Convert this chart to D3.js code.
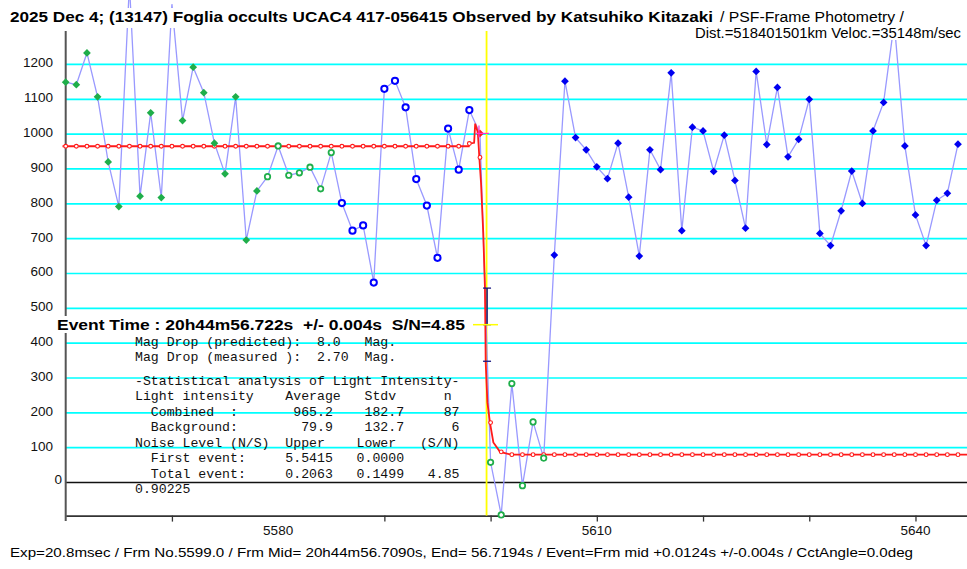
<!DOCTYPE html>
<html lang="en">
<head>
<meta charset="utf-8">
<title>(13147) Foglia occults UCAC4 417-056415</title>
<script src="https://cdnjs.cloudflare.com/ajax/libs/d3/7.8.5/d3.min.js"></script>
<style>
  body { margin: 0; background: #fff; }
  svg { display: block; }
  .grid { stroke: #00ffff; stroke-width: 1.7; }
  .lab { font: 13.5px "Liberation Sans", Arial, sans-serif; fill: #111; }
  .mono { font: 13.2px "Liberation Mono", monospace; fill: #111; white-space: pre; }
</style>
</head>
<body>
<svg width="967" height="569"></svg>
<script>
// frame numbers start here, one value per frame
var startFrame = 5560;
var intensity = [
  1149, 1142, 1233, 1107, 920, 792, 1430, 822, 1061, 818,
  1373, 1039, 1192, 1119, 974, 886, 1107, 696, 837, 878,
  966, 882, 889, 905, 843, 947, 802, 723, 738, 574,
  1130, 1153, 1077, 871, 795, 645, 1016, 898, 1069, 1002,
  58, -93, 284, -9, 174, 70, 653, 1152, 990, 955,
  906, 872, 974, 819, 650, 955, 898, 1176, 723, 1020,
  1009, 893, 997, 867, 730, 1180, 970, 1134, 935, 985,
  1100, 715, 680, 780, 894, 801, 1009, 1091, 1320, 966,
  768, 680, 810, 830, 971
];
// marker style for consecutive runs of frames
var markerRuns = [["greenDiamond", 19], ["greenRing", 7], ["blueRing", 13], ["event", 1], ["greenRing", 6], ["blueDiamond", 39]];

// fitted model (red)
var levelBefore = 965.2, levelAfter = 79.9;
var modelFrames = [5559.7, 5597.95, 5598.0, 5598.45, 5598.55, 5598.8, 5598.94, 5599.1, 5599.31, 5599.47, 5599.54, 5599.7, 5599.94, 5600.26, 5600.89, 5601.93, 5644.9];
var modelValues = [965.2, 965.2, 973, 975, 1030, 1005, 933, 860, 716, 558, 344, 230, 172, 115, 88, 80, 79.9];
var modelCircleFrames = [5598, 5599, 5600, 5601];
var modelCircleValues = [973, 933, 172, 88];

var eventFrame = 5599.62;
var errorBar = [348, 453, 558];

var yTicks = [0, 100, 200, 300, 400, 500, 600, 700, 800, 900, 1000, 1100, 1200];
var xTicks = [5570, 5590, 5600, 5610, 5620, 5630, 5640];
var xLabels = [5580, 5610, 5640];

var statsLines = [
  "Mag Drop (predicted):  8.0   Mag.",
  "Mag Drop (measured ):  2.70  Mag.",
  "-Statistical analysis of Light Intensity-",
  "Light intensity    Average   Stdv      n",
  "  Combined  :       965.2    182.7     87",
  "  Background:        79.9    132.7      6",
  "Noise Level (N/S)  Upper    Lower   (S/N)",
  "  First event:     5.5415   0.0000",
  "  Total event:     0.2063   0.1499   4.85",
  "0.90225"
];

var svg = d3.select("svg");
var right = 967;
var plotTop = 31;

var x = d3.scaleLinear().domain([5560, 5644.85]).range([65.7, right]);
var y = d3.scaleLinear().domain([-95, 1385]).range([515.6, 0]);

// grid lines
svg.append("g").selectAll("line")
  .data(yTicks.filter(function(d) { return d !== 0; }))
  .enter().append("line")
    .attr("class", "grid")
    .attr("x1", x(5560)).attr("x2", right)
    .attr("y1", function(d) { return y(d); })
    .attr("y2", function(d) { return y(d); });

svg.append("line")
  .attr("x1", x(5560)).attr("x2", right)
  .attr("y1", y(0)).attr("y2", y(0))
  .attr("stroke", "#111").attr("stroke-width", 1.3);

// bottom axis
var xAxis = svg.append("g")
  .attr("transform", "translate(0," + y(-95) + ")")
  .call(d3.axisBottom(x).tickValues(xTicks).tickFormat("").tickSizeInner(6).tickSizeOuter(0));
xAxis.select(".domain").attr("stroke", "#333").attr("stroke-width", 1.6);
xAxis.selectAll(".tick line").attr("stroke", "#333").attr("stroke-width", 1.3);

svg.append("g").selectAll("text")
  .data(xLabels)
  .enter().append("text")
    .attr("class", "lab")
    .attr("x", function(d) { return x(d); })
    .attr("y", 534.5)
    .attr("text-anchor", "middle")
    .text(function(d) { return d; });

// left axis
svg.append("line")
  .attr("x1", x(5560)).attr("x2", x(5560))
  .attr("y1", plotTop).attr("y2", 521)
  .attr("stroke", "#555").attr("stroke-width", 2);

svg.append("g").selectAll("text")
  .data(yTicks)
  .enter().append("text")
    .attr("class", "lab")
    .attr("x", function(d) { return d === 0 ? 62 : 53; })
    .attr("y", function(d) { return y(d) + (d === 0 ? 1.5 : 3); })
    .attr("text-anchor", "end")
    .text(function(d) { return d; });

// event time line
svg.append("line")
  .attr("x1", x(eventFrame)).attr("x2", x(eventFrame))
  .attr("y1", plotTop).attr("y2", y(-95))
  .attr("stroke", "#ffff00").attr("stroke-width", 1.8);

// observed light curve
var points = [];
var k = 0;
markerRuns.forEach(function(run) {
  for (var j = 0; j < run[1]; j++) {
    points.push({frame: startFrame + k, value: intensity[k], kind: run[0]});
    k++;
  }
});

var line = d3.line()
  .x(function(d) { return x(d.frame); })
  .y(function(d) { return y(d.value); });

svg.append("path")
  .datum(points)
  .attr("fill", "none")
  .attr("stroke", "#9999ff")
  .attr("stroke-width", 1.3)
  .attr("d", line);

// model curve
var model = modelFrames.map(function(f, i) { return {frame: f, value: modelValues[i]}; });
svg.append("path")
  .datum(model)
  .attr("fill", "none")
  .attr("stroke", "#ff1a1a")
  .attr("stroke-width", 1.8)
  .attr("d", line);

var modelCircles = [];
for (var f = 5560; f <= 5644; f++) {
  var idx = modelCircleFrames.indexOf(f);
  if (idx >= 0) modelCircles.push({frame: f, value: modelCircleValues[idx]});
  else modelCircles.push({frame: f, value: f < 5598 ? levelBefore : levelAfter});
}
svg.append("g").selectAll("circle")
  .data(modelCircles)
  .enter().append("circle")
    .attr("cx", function(d) { return x(d.frame); })
    .attr("cy", function(d) { return y(d.value); })
    .attr("r", 1.9)
    .attr("fill", "#fff")
    .attr("stroke", "#ff1a1a")
    .attr("stroke-width", 1.1);

// markers (points above the plot top only show as line)
var diamond = d3.symbol().type(d3.symbolSquare).size(30);
var colors = {greenDiamond: "#1fae4a", greenRing: "#1fae4a", blueRing: "#0000ff", blueDiamond: "#0000f0", event: "#ff1a1a"};

var mk = svg.append("g").selectAll("g")
  .data(points.filter(function(d) { return y(d.value) >= plotTop; }))
  .enter().append("g")
    .attr("transform", function(d) { return "translate(" + x(d.frame) + "," + y(d.value) + ")"; });

mk.filter(function(d) { return d.kind === "greenDiamond" || d.kind === "blueDiamond" || d.kind === "event"; })
  .append("path")
    .attr("d", diamond)
    .attr("transform", "rotate(45)")
    .attr("fill", function(d) { return colors[d.kind]; });

mk.filter(function(d) { return d.kind === "greenRing"; })
  .append("circle")
    .attr("r", 2.7)
    .attr("fill", "#fff")
    .attr("stroke", function(d) { return colors[d.kind]; })
    .attr("stroke-width", 1.8);

mk.filter(function(d) { return d.kind === "blueRing"; })
  .append("circle")
    .attr("r", 3.1)
    .attr("fill", "#fff")
    .attr("stroke", function(d) { return colors[d.kind]; })
    .attr("stroke-width", 2);

var ev = mk.filter(function(d) { return d.kind === "event"; });
ev.append("line").attr("x1", -4).attr("x2", 9).attr("y1", 0).attr("y2", 0)
  .attr("stroke", "#ff33cc").attr("stroke-width", 1.2);
ev.append("line").attr("x1", -1).attr("x2", -1).attr("y1", -8).attr("y2", 4)
  .attr("stroke", "#ff33cc").attr("stroke-width", 1.2);

// timing error bar
var ex = x(eventFrame) + 0.5;
svg.append("line")
  .attr("x1", ex).attr("x2", ex)
  .attr("y1", y(errorBar[2])).attr("y2", y(errorBar[1]))
  .attr("stroke", "#1a1a80").attr("stroke-width", 1.6);
svg.append("g").selectAll("line")
  .data(errorBar)
  .enter().append("line")
    .attr("x1", ex - 4).attr("x2", ex + 4)
    .attr("y1", function(d) { return y(d); })
    .attr("y2", function(d) { return y(d); })
    .attr("stroke", "#1a1a80").attr("stroke-width", 1.3);
svg.append("line")
  .attr("x1", 473).attr("x2", 498)
  .attr("y1", y(errorBar[1])).attr("y2", y(errorBar[1]))
  .attr("stroke", "#ffff00").attr("stroke-width", 1.5);

// text boxes
svg.append("rect").attr("x", 8).attr("y", 8).attr("width", 900).attr("height", 20).attr("fill", "#fff");
svg.append("rect").attr("x", 693).attr("y", 28).attr("width", 272).attr("height", 12).attr("fill", "#fff");
svg.append("rect").attr("x", 56).attr("y", 316).attr("width", 411).attr("height", 17).attr("fill", "#fff");

svg.append("text")
  .attr("x", 10).attr("y", 22)
  .attr("textLength", 703).attr("lengthAdjust", "spacingAndGlyphs")
  .style("font", "bold 15px 'Liberation Sans', Arial, sans-serif")
  .text("2025 Dec 4; (13147) Foglia occults UCAC4 417-056415 Observed by Katsuhiko Kitazaki");
svg.append("text")
  .attr("x", 720).attr("y", 22)
  .attr("textLength", 184).attr("lengthAdjust", "spacingAndGlyphs")
  .style("font", "14px 'Liberation Sans', Arial, sans-serif")
  .text("/ PSF-Frame Photometry /");
svg.append("text")
  .attr("x", 695).attr("y", 37.5)
  .attr("textLength", 266).attr("lengthAdjust", "spacingAndGlyphs")
  .style("font", "14px 'Liberation Sans', Arial, sans-serif")
  .text("Dist.=518401501km Veloc.=35148m/sec");

svg.append("text")
  .attr("x", 57).attr("y", 329.5)
  .attr("textLength", 408).attr("lengthAdjust", "spacingAndGlyphs")
  .attr("xml:space", "preserve")
  .style("font", "bold 14px 'Liberation Sans', Arial, sans-serif")
  .style("white-space", "pre")
  .text("Event Time : 20h44m56.722s  +/- 0.004s  S/N=4.85");

svg.append("g").selectAll("text")
  .data(statsLines)
  .enter().append("text")
    .attr("class", "mono")
    .attr("xml:space", "preserve")
    .attr("x", 135)
    .attr("y", function(d, i) { return 345.5 + 15.5 * i + (i >= 2 ? 8 : 0); })
    .text(function(d) { return d; });

svg.append("text")
  .attr("x", 10).attr("y", 556.5)
  .attr("textLength", 903).attr("lengthAdjust", "spacingAndGlyphs")
  .style("font", "13.5px 'Liberation Sans', Arial, sans-serif")
  .text("Exp=20.8msec / Frm No.5599.0 / Frm Mid= 20h44m56.7090s,  End= 56.7194s / Event=Frm mid +0.0124s +/-0.004s / CctAngle=0.0deg");
</script>
</body>
</html>
